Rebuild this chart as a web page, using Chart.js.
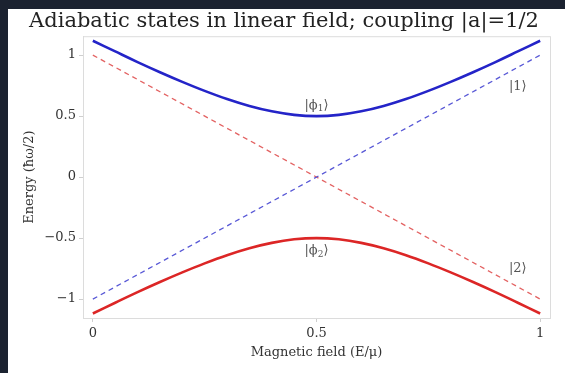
<!DOCTYPE html>
<html>
<head>
<meta charset="utf-8">
<script src="https://cdn.jsdelivr.net/npm/chart.js@4/dist/chart.umd.min.js"></script>
<style>
  html, body { margin: 0; padding: 0; background: #1b2230; }
  #wrap { position: absolute; left: 8px; top: 9px; width: 557px; height: 364px; background: #fff; }
</style>
</head>
<body>
<div id="wrap"><canvas id="chart" width="557" height="364"></canvas></div>
<script>
// Magnetic field values (E/mu) where the curves were read
const fieldX = [0, 0.05, 0.1, 0.15, 0.2, 0.25, 0.3, 0.35, 0.4, 0.45, 0.5,
                0.55, 0.6, 0.65, 0.7, 0.75, 0.8, 0.85, 0.9, 0.95, 1];
// adiabatic states |phi1> (upper) and |phi2> (lower)
const phi1 = [1.118, 1.030, 0.943, 0.860, 0.781, 0.707, 0.640, 0.583, 0.539, 0.510, 0.500,
              0.510, 0.539, 0.583, 0.640, 0.707, 0.781, 0.860, 0.943, 1.030, 1.118];
const phi2 = [-1.118, -1.030, -0.943, -0.860, -0.781, -0.707, -0.640, -0.583, -0.539, -0.510, -0.500,
              -0.510, -0.539, -0.583, -0.640, -0.707, -0.781, -0.860, -0.943, -1.030, -1.118];
// diabatic states |1> and |2> (straight dashed lines)
const diabX = [0, 1];
const state1 = [-1, 1];
const state2 = [1, -1];

const xTicks = [0, 0.5, 1];
const yTicks = [-1, -0.5, 0, 0.5, 1];

// state labels, placed in data coordinates
const labels = [
    {text: "|\u03d51\u27e9", x: 0.5, y: 0.59},
    {text: "|\u03d52\u27e9", x: 0.5, y: -0.6},
    {text: "|1\u27e9", x: 0.95, y: 0.74},
    {text: "|2\u27e9", x: 0.95, y: -0.75},
];

const toPts = (xs, ys) => xs.map((x, i) => ({x: x, y: ys[i]}));
const fmt = (v) => String(v).replace("-", "\u2212");
const serif = "'DejaVu Serif', serif";

const framePlugin = {
    id: "frame",
    beforeDatasetsDraw(chart) {
        const {ctx, chartArea: a} = chart;
        ctx.save();
        ctx.strokeStyle = "#dcdcdc";
        ctx.lineWidth = 1;
        ctx.strokeRect(a.left + 0.5, a.top + 0.5, a.right - a.left, a.bottom - a.top);
        ctx.restore();
    },
    afterDatasetsDraw(chart) {
        const {ctx, scales} = chart;
        ctx.save();
        ctx.fillStyle = "#555";
        ctx.font = "13px " + serif;
        ctx.textAlign = "center";
        ctx.textBaseline = "middle";
        labels.forEach((l) => {
            const px = scales.x.getPixelForValue(l.x);
            const py = scales.y.getPixelForValue(l.y);
            // subscripts drawn by hand
            const m = l.text.match(/^\|(\u03d5)(\d)\u27e9$/);
            if (m) {
                ctx.textAlign = "left";
                const w1 = ctx.measureText("|\u03d5").width;
                ctx.font = "9px " + serif;
                const w2 = ctx.measureText(m[2]).width;
                ctx.font = "13px " + serif;
                const w3 = ctx.measureText("\u27e9").width;
                let x0 = px - (w1 + w2 + w3) / 2;
                ctx.fillText("|\u03d5", x0, py);
                ctx.font = "9px " + serif;
                ctx.fillText(m[2], x0 + w1, py + 4);
                ctx.font = "13px " + serif;
                ctx.fillText("\u27e9", x0 + w1 + w2, py);
                ctx.textAlign = "center";
            } else {
                ctx.fillText(l.text, px, py);
            }
        });
        ctx.restore();
    }
};

new Chart(document.getElementById("chart"), {
    type: "line",
    data: {
        datasets: [{
            label: "|1>", data: toPts(diabX, state1),
            borderColor: "#5858d6", borderWidth: 1.3, borderDash: [5, 4], pointRadius: 0,
        }, {
            label: "|2>", data: toPts(diabX, state2),
            borderColor: "#e36262", borderWidth: 1.3, borderDash: [5, 4], pointRadius: 0,
        }, {
            label: "phi1", data: toPts(fieldX, phi1),
            borderColor: "#2424c8", borderWidth: 2.6, pointRadius: 0, tension: 0.4,
        }, {
            label: "phi2", data: toPts(fieldX, phi2),
            borderColor: "#dc2626", borderWidth: 2.6, pointRadius: 0, tension: 0.4,
        }],
    },
    options: {
        responsive: false,
        animation: false,
        layout: {padding: {left: 10, right: 15, top: 0, bottom: 9}},
        plugins: {
            legend: {display: false},
            tooltip: {enabled: false},
            title: {
                display: true,
                text: "Adiabatic states in linear field; coupling |a|=1/2",
                color: "#222",
                font: {family: serif, size: 21, weight: "normal"},
                padding: {top: 0, bottom: 2},
            },
        },
        scales: {
            x: {
                type: "linear", min: -0.022, max: 1.022,
                afterBuildTicks: (s) => { s.ticks = xTicks.map((v) => ({value: v})); },
                afterFit: (s) => { s.height = 46; },
                grid: {drawOnChartArea: false, tickLength: 4, color: "#cfcfcf"},
                border: {color: "#d6d6d6"},
                ticks: {color: "#333", font: {family: serif, size: 13}, padding: 4, callback: fmt},
                title: {
                    display: true, text: "Magnetic field (E/\u03bc)", color: "#333",
                    font: {family: serif, size: 13}, padding: {top: 0},
                },
            },
            y: {
                type: "linear", min: -1.155, max: 1.155,
                afterBuildTicks: (s) => { s.ticks = yTicks.map((v) => ({value: v})); },
                afterFit: (s) => { s.width = 65; },
                grid: {drawOnChartArea: false, tickLength: 4, color: "#cfcfcf"},
                border: {color: "#d6d6d6"},
                ticks: {color: "#333", font: {family: serif, size: 13}, padding: 3, callback: fmt},
                title: {
                    display: true, text: "Energy (\u0127\u03c9/2)", color: "#333",
                    font: {family: serif, size: 13}, padding: {bottom: 4},
                },
            },
        },
    },
    plugins: [framePlugin],
});
</script>
</body>
</html>
